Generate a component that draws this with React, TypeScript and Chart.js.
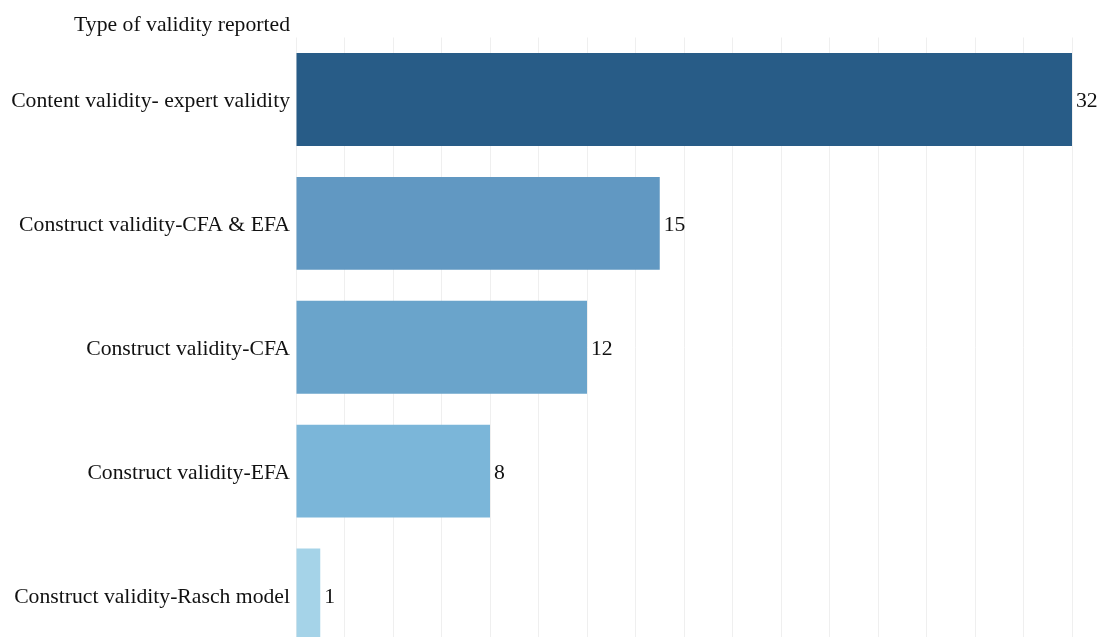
import React, { useEffect, useRef } from "react";
import { Chart, registerables } from "chart.js";

Chart.register(...registerables);

const categories = [
  "Content validity- expert validity",
  "Construct validity-CFA & EFA",
  "Construct validity-CFA",
  "Construct validity-EFA",
  "Construct validity-Rasch model",
];
const counts = [32, 15, 12, 8, 1];
const barColors = ["#285C87", "#6198C2", "#6AA4CB", "#7BB6D9", "#A5D3E8"];
const axisTitle = "Type of validity reported";
const xMax = 32;
const xStep = 2;

const FONT = "'Liberation Serif', 'Times New Roman', serif";
const FONT_SIZE = 21.7;

const labelPlugin = {
  id: "labels",
  afterDatasetsDraw(chart: any) {
    const ctx = chart.ctx;
    const meta = chart.getDatasetMeta(0);
    ctx.save();
    ctx.font = `${FONT_SIZE}px ${FONT}`;
    ctx.fillStyle = "#111111";
    ctx.textAlign = "left";
    ctx.textBaseline = "middle";
    meta.data.forEach((bar: any, i: number) => {
      ctx.fillText(String(counts[i]), bar.x + 4, bar.y + 2);
    });
    ctx.textAlign = "right";
    ctx.textBaseline = "alphabetic";
    ctx.fillText(axisTitle, chart.chartArea.left - 6, 31);
    ctx.restore();
  },
};

export default function App() {
  const ref = useRef<HTMLCanvasElement>(null);
  useEffect(() => {
    if (!ref.current) return;
    const chart = new Chart(ref.current, {
      type: "bar",
      data: {
        labels: categories,
        datasets: [
          {
            data: counts,
            backgroundColor: barColors,
            barPercentage: 0.75,
            categoryPercentage: 1,
          },
        ],
      },
      options: {
        indexAxis: "y",
        animation: false,
        responsive: false,
        maintainAspectRatio: false,
        layout: { padding: { top: 37.5, right: 27, bottom: 4, left: 0 } },
        plugins: { legend: { display: false }, tooltip: { enabled: false } },
        scales: {
          x: {
            min: 0,
            max: xMax,
            ticks: { display: false, stepSize: xStep },
            grid: { color: "#EFEFEF", lineWidth: 1, drawTicks: false },
            border: { display: false },
          },
          y: {
            grid: { display: false, drawTicks: false },
            border: { display: false },
            ticks: {
              color: "#111111",
              padding: 6,
              labelOffset: 2,
              font: { family: FONT, size: FONT_SIZE },
            },
            afterFit: (s: any) => {
              s.width = 296;
            },
          },
        },
      },
      plugins: [labelPlugin],
    });
    return () => chart.destroy();
  }, []);
  return (
    <div
      style={{
        position: "fixed",
        left: 0,
        top: 0,
        width: 1099,
        height: 637,
        overflow: "hidden",
        background: "#fff",
      }}
    >
      <canvas ref={ref} width={1099} height={676} style={{ display: "block" }} />
    </div>
  );
}
